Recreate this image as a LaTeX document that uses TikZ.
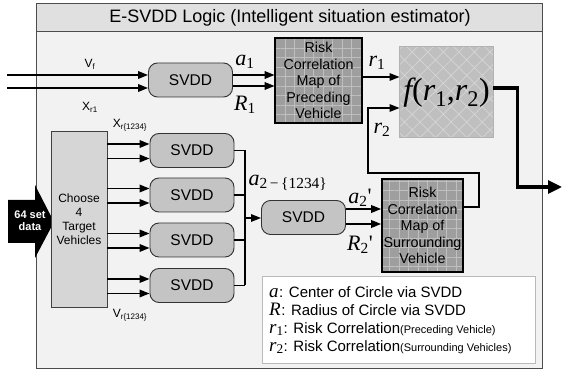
\documentclass[tikz,border=0pt]{standalone}
\usepackage{fontspec}
\setmainfont{Liberation Sans}
\newfontfamily\tms{Liberation Serif}
\usetikzlibrary{arrows.meta,patterns.meta,positioning}

% italic serif symbol with an upright subscript
\newcommand{\mvar}[2]{{\tms\itshape #1}\textsubscript{\tms #2}}
\newcommand{\keysym}[1]{{\fontsize{19}{18}\selectfont#1}}
\newcommand{\keynote}[1]{{\fontsize{11}{18}\selectfont(#1)}}

\tikzset{
  svdd/.style={draw=gray!40!black, fill=gray!46, rounded corners=9pt, line width=0.9pt,
    minimum width=84pt, minimum height=34pt, font=\fontsize{15.5}{18}\selectfont},
  choosebox/.style={draw=gray!50!black, fill=gray!32, line width=0.9pt, minimum width=56pt,
    minimum height=176pt, align=center, font=\fontsize{12}{14}\selectfont},
  riskmap/.style={draw=black, line width=1.6pt, preaction={fill=gray!76},
    pattern={Hatch[angle=0,distance=9.5pt,line width=0.8pt]}, pattern color=gray!50,
    align=center, inner sep=0pt, font=\fontsize{14.3}{16.5}\selectfont},
  fnbox/.style={draw=gray!60, line width=1pt, preaction={fill=gray!50},
    pattern={Hatch[angle=45,distance=11pt,line width=0.7pt]}, pattern color=gray!32,
    minimum width=93pt, minimum height=91pt},
  keybox/.style={draw=gray!55, fill=white, line width=1pt, minimum width=273pt, minimum height=86pt},
  keyline/.style={anchor=west, inner sep=0pt, font=\fontsize{15}{18}\selectfont},
  sig/.style={line width=1.8pt, -{Triangle[length=10pt,width=7.5pt]}},
  wire/.style={line width=1.5pt},
  lbl/.style={font=\fontsize{12}{14}\selectfont},
  mlbl/.style={font=\fontsize{22}{22}\selectfont},
}

\begin{document}
\begin{tikzpicture}[x=1pt,y=-1pt]
  \useasboundingbox (0,0) rectangle (562,371);
  % frame and title band
  \filldraw[fill=gray!10, draw=gray!60!black, line width=1pt] (36,4) rectangle (542,368);
  \filldraw[fill=gray!24, draw=gray!60!black, line width=1pt] (36,4) rectangle (542,32);
  \node[font=\fontsize{18}{20}\selectfont] (title) at (290,18) {E-SVDD Logic (Intelligent situation estimator)};

  % input arrow, under the selection box
  \fill (8,200) -- (35,200) -- (35,185) -- (54,222) -- (35,258) -- (35,243) -- (8,243) -- cycle;
  \node[font=\bfseries\fontsize{11}{12}\selectfont, text=white, align=center] (data) at (30,221) {64 set\\data};
  \node[choosebox] (choose) at (79,219) {Choose\\4\\Target\\Vehicles};

  % svdd blocks
  \node[svdd] (s0) at (190.5,80) {SVDD};
  \foreach \i/\y in {1/150.5,2/195,3/240,4/285.5}
    \node[svdd] (s\i) at (192,\y) {SVDD};
  \node[svdd] (s5) at (303.5,217.5) {SVDD};

  % maps and output function
  \node[riskmap, minimum width=87pt, minimum height=85pt] (map1) at (318.5,80.5)
    {Risk\\Correlation\\Map of\\Preceding\\Vehicle};
  \node[riskmap, minimum width=81pt, minimum height=93pt] (map2) at (422.5,225.5)
    {Risk\\Correlation\\Map of\\Surrounding\\Vehicle};
  \node[fnbox, font=\fontsize{32}{32}\selectfont] (fn) at (446.5,92.5)
    {{\tms\itshape f}{\tms(}\mvar{r}{1}{\tms,}\mvar{r}{2}{\tms)}};

  % preceding vehicle path
  \coordinate (vf) at (7,75);
  \coordinate (xr) at (7,88);
  \draw[sig] (vf) -- (vf -| s0.west);
  \draw[sig] (xr) -- (xr -| s0.west);
  \coordinate (a1) at ([yshift=5pt]s0.east);
  \coordinate (R1) at ([yshift=-6pt]s0.east);
  \draw[sig] (a1) -- (a1 -| map1.west);
  \draw[sig] (R1) -- (R1 -| map1.west);
  \coordinate (r1) at ([yshift=3.5pt]map1.east);
  \draw[sig, line width=1.5pt] (r1) -- (r1 -| fn.west);

  % surrounding vehicles path
  \coordinate (bus) at (245,218);
  \foreach \i in {1,...,4} {
    \coordinate (xin\i) at ([yshift=6.5pt]s\i.west);
    \coordinate (vin\i) at ([yshift=-8pt]s\i.west);
    \draw[sig] (xin\i -| choose.east) -- (xin\i);
    \draw[sig] (vin\i -| choose.east) -- (vin\i);
    \draw[wire] (s\i.east) -- (s\i.east -| bus);
  }
  \draw[wire] (s1.east -| bus) -- (s4.east -| bus);
  \draw[sig, line width=1.5pt] (bus) -- (bus -| s5.west);
  \coordinate (a2) at ([yshift=8.5pt]s5.east);
  \coordinate (R2) at ([yshift=-6.5pt]s5.east);
  \draw[sig] (a2) -- (a2 -| map2.west);
  \draw[sig] (R2) -- (R2 -| map2.west);
  \coordinate (r2) at ([yshift=18.5pt]map2.east);
  \coordinate (r2in) at ([yshift=-15.5pt]fn.west);
  \draw[sig, line width=1.5pt] (r2) -- ++(15,0) |- (368,173) |- (r2in);

  % output
  \coordinate (out) at (562,187);
  \draw[line width=3.2pt, -{Triangle[length=14pt,width=13pt]}] ([yshift=4.5pt]fn.east) -- ++(24,0) |- (out);

  % labels
  \node[lbl] (vflbl) at (90,64) {V\textsubscript{f}};
  \node[lbl] (xrlbl) at (90,107) {X\textsubscript{r1}};
  \node[lbl] (xalbl) at (130,125) {X\textsubscript{r\{1234\}}};
  \node[lbl] (valbl) at (130,315) {V\textsubscript{r\{1234\}}};
  \node[mlbl] (a1lbl) at (245,62) {\mvar{a}{1}};
  \node[mlbl] (R1lbl) at (245,105) {\mvar{R}{1}};
  \node[mlbl] (r1lbl) at (377,63) {\mvar{r}{1}};
  \node[mlbl] (r2lbl) at (382,130) {\mvar{r}{2}};
  \node[mlbl] (a2lbl) at (288,183) {\mvar{a}{2\,−\,\{1234\}}};
  \node[mlbl] (a2plbl) at (360,198) {\mvar{a}{2}{\tms'}};
  \node[mlbl] (R2plbl) at (360,245) {\mvar{R}{2}{\tms'}};

  % legend
  \node[keybox] (key) at (398.5,320) {};
  \node[keyline] (k1) at (269,293) {\keysym{\mvar{a}{}}: Center of Circle via SVDD};
  \node[keyline] (k2) at (269,311) {\keysym{\mvar{R}{}}: Radius of Circle via SVDD};
  \node[keyline] (k3) at (269,329) {\keysym{\mvar{r}{1}}: Risk Correlation\keynote{Preceding Vehicle}};
  \node[keyline] (k4) at (269,347) {\keysym{\mvar{r}{2}}: Risk Correlation\keynote{Surrounding Vehicles}};
\end{tikzpicture}
\end{document}
